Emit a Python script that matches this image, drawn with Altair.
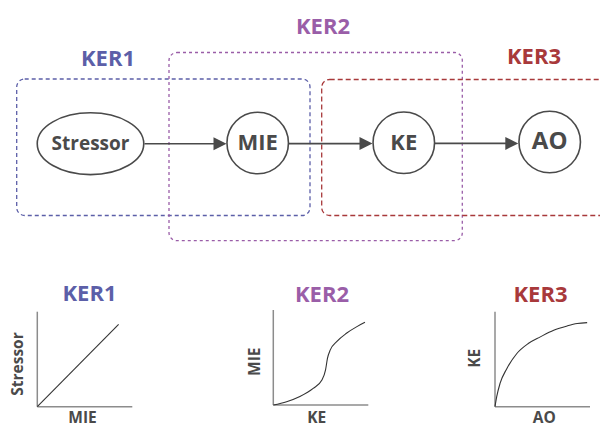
import altair as alt
import pandas as pd

# ---------- data ----------
node_names = ["Stressor", "MIE", "KE", "AO"]
node_x = [90.5, 257.7, 403.8, 549.7]
node_y = [143.7, 143.0, 142.7, 142.0]
node_fs = [19, 22, 22, 24]

ker_names = ["KER1", "KER2", "KER3"]
ker_colors = ["#5c5fa8", "#9a5ea8", "#a8393b"]
box_x1 = [16.7, 169.0, 321.7]
box_x2 = [310.0, 462.3, 650.0]
box_y1 = [79.0, 52.5, 79.5]
box_y2 = [215.5, 240.7, 215.5]
box_dash = [[4, 3], [3, 3], [5, 3]]
title_top_x = [108.0, 323.0, 534.0]
title_top_y = [58.5, 26.5, 56.5]
title_bot_x = [89.5, 322.0, 540.5]
title_bot_y = [294.3, 294.5, 294.5]

arrow_x1 = [144.5, 288.7, 435.0]
arrow_x2 = [220.0, 366.0, 512.0]
arrow_tip = [226.5, 372.5, 518.3]
arrow_y = [143.8, 143.6, 143.4]

panel_ox = [37.3, 273.3, 495.0]
panel_oy = [406.7, 405.0, 406.7]
panel_len = 95.0
ylab_text = ["Stressor", "MIE", "KE"]
ylab_x = [17.5, 255.0, 475.3]
ylab_y = [364.0, 361.7, 358.3]
xlab_text = ["MIE", "KE", "AO"]
xlab_x = [82.5, 316.7, 544.3]
xlab_y = [417.5, 417.5, 418.0]

ker1_u = [0.0, 0.856]
ker1_v = [0.0, 0.867]
ker2_u = [0.0, 0.14, 0.28, 0.42, 0.51, 0.55, 0.57, 0.60, 0.67, 0.77, 0.88, 0.965]
ker2_v = [0.0, 0.035, 0.09, 0.175, 0.26, 0.37, 0.49, 0.58, 0.67, 0.755, 0.825, 0.87]
ker3_u = [0.0, 0.018, 0.053, 0.124, 0.23, 0.35, 0.477, 0.618, 0.76, 0.865, 0.97]
ker3_v = [0.0, 0.105, 0.245, 0.40, 0.56, 0.665, 0.735, 0.805, 0.85, 0.875, 0.885]

TXT = "#4a4a4a"
FONT = "Open Sans"

# ---------- tables ----------
boxes = pd.DataFrame({"x": box_x1, "x2": box_x2, "y": box_y1, "y2": box_y2,
                      "c": ker_colors, "k": ker_names})
nodes = pd.DataFrame({"name": node_names, "x": node_x, "y": node_y, "fs": node_fs})
arrows = pd.DataFrame({"x": arrow_x1, "x2": arrow_x2, "y": arrow_y,
                       "tipc": [t - 6.5 for t in arrow_tip]})
titles = pd.DataFrame({"k": ker_names * 2, "c": ker_colors * 2,
                       "x": title_top_x + title_bot_x, "y": title_top_y + title_bot_y})

axes_rows = []
for i in range(3):
    ox, oy = panel_ox[i], panel_oy[i]
    axes_rows.append({"x": ox, "x2": ox, "y": oy, "y2": oy - panel_len})
    axes_rows.append({"x": ox, "x2": ox + panel_len, "y": oy, "y2": oy})
axes_df = pd.DataFrame(axes_rows)

curve_rows = []
for i, (us, vs) in enumerate([(ker1_u, ker1_v), (ker2_u, ker2_v), (ker3_u, ker3_v)]):
    for j, (u, v) in enumerate(zip(us, vs)):
        curve_rows.append({"p": i, "o": j,
                           "x": panel_ox[i] + u * panel_len,
                           "y": panel_oy[i] - v * panel_len})
curves = pd.DataFrame(curve_rows)

ylabs = pd.DataFrame({"t": ylab_text, "x": ylab_x, "y": ylab_y})
xlabs = pd.DataFrame({"t": xlab_text, "x": xlab_x, "y": xlab_y})

# ---------- scales ----------
W, H = 592, 417
xs = alt.Scale(domain=[8, 8 + W], nice=False, zero=False)
ys = alt.Scale(domain=[8, 8 + H], nice=False, zero=False, reverse=True)
X = lambda f="x": alt.X(f"{f}:Q", scale=xs, axis=None)
Y = lambda f="y": alt.Y(f"{f}:Q", scale=ys, axis=None)

layers = []
for i in range(3):
    layers.append(
        alt.Chart(boxes.iloc[[i]]).mark_rect(
            cornerRadius=8, fillOpacity=0, strokeWidth=1.3,
            strokeDash=box_dash[i], stroke=ker_colors[i]
        ).encode(x=X(), x2="x2:Q", y=Y(), y2="y2:Q")
    )

arrow_lines = alt.Chart(arrows).mark_rule(color=TXT, strokeWidth=1.6).encode(
    x=X(), x2="x2:Q", y=Y())
arrow_heads = alt.Chart(arrows).mark_point(
    shape="M -1 -1 L 1 0 L -1 1 Z", filled=True, color=TXT, size=169, opacity=1
).encode(x=X("tipc"), y=Y())

ellipse = alt.Chart(nodes.iloc[[0]]).mark_point(
    shape="M -1 0 A 1 0.58 0 1 0 1 0 A 1 0.58 0 1 0 -1 0 Z",
    filled=False, color=TXT, strokeWidth=1.6, size=106.5 ** 2, opacity=1
).encode(x=X(), y=Y())
circles = alt.Chart(nodes.iloc[1:]).mark_point(
    shape="circle", filled=False, color=TXT, strokeWidth=1.6, size=61.5 ** 2, opacity=1
).encode(x=X(), y=Y())
node_text = alt.Chart(nodes).mark_text(
    font=FONT, fontWeight="bold", color=TXT, baseline="middle", align="center"
).encode(x=X(), y=Y(), text="name:N", size=alt.Size("fs:Q", scale=None))

title_text = alt.Chart(titles).mark_text(
    font=FONT, fontWeight="bold", fontSize=22, baseline="middle", align="center"
).encode(x=X(), y=Y(), text="k:N", color=alt.Color("c:N", scale=None))

axis_rules = alt.Chart(axes_df).mark_rule(color="#8c8c8c", strokeWidth=1.5).encode(
    x=X(), x2="x2:Q", y=Y(), y2="y2:Q")
curve_lines = alt.Chart(curves).mark_line(
    color="#333333", strokeWidth=1.1, interpolate="monotone"
).encode(x=X(), y=Y(), detail="p:N", order="o:Q")

ylab_text_m = alt.Chart(ylabs).mark_text(
    font=FONT, fontWeight="bold", fontSize=15.5, color=TXT, angle=270,
    baseline="middle", align="center"
).encode(x=X(), y=Y(), text="t:N")
xlab_text_m = alt.Chart(xlabs).mark_text(
    font=FONT, fontWeight="bold", fontSize=15.5, color=TXT,
    baseline="middle", align="center"
).encode(x=X(), y=Y(), text="t:N")

chart = alt.layer(
    *layers, arrow_lines, arrow_heads, ellipse, circles, node_text, title_text,
    axis_rules, curve_lines, ylab_text_m, xlab_text_m
).properties(
    width=W, height=H, padding=0,
    autosize=alt.AutoSizeParams(type="none"),
    background="white"
).configure_view(stroke=None)

chart.save("out.html", embed_options={"renderer": "svg", "actions": False})
